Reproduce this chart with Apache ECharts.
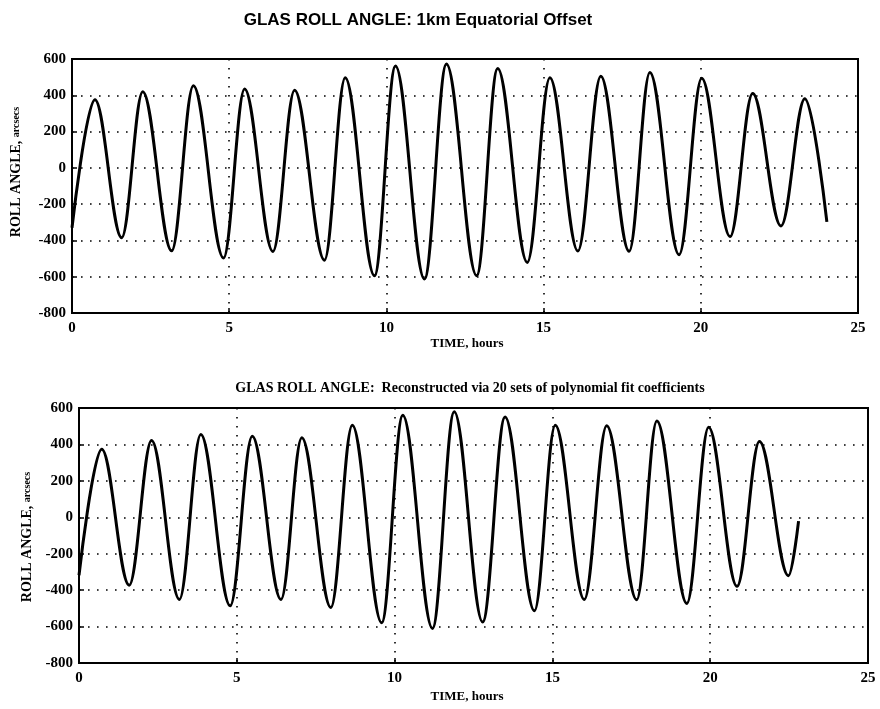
<!DOCTYPE html>
<html>
<head>
<meta charset="utf-8">
<script src="https://cdn.jsdelivr.net/npm/echarts@6/dist/echarts.min.js"></script>
<style>
  html, body { margin: 0; padding: 0; background: #fff; }
  #main { width: 880px; height: 709px; }
</style>
</head>
<body>
<div id="main"></div>
<script>
// values: start, each peak / trough, end
var topHours = [0, 0.73, 1.58, 2.25, 3.17, 3.86, 4.82, 5.49, 6.39, 7.08, 8.03, 8.69, 9.62, 10.29, 11.21, 11.91,
  12.87, 13.54, 14.48, 15.20, 16.09, 16.82, 17.72, 18.38, 19.31, 20.03, 20.93, 21.65, 22.55, 23.31, 24.01]
var topRoll = [-330, 375, -385, 420, -457, 452, -497, 434, -461, 428, -509, 497, -595, 562, -613, 572,
  -594, 548, -521, 497, -458, 505, -460, 526, -479, 494, -379, 410, -320, 381, -298]

var bottomHours = [0, 0.72, 1.59, 2.30, 3.18, 3.86, 4.79, 5.49, 6.40, 7.06, 7.98, 8.66, 9.59, 10.26, 11.20, 11.89,
  12.79, 13.50, 14.43, 15.09, 16.01, 16.72, 17.67, 18.31, 19.26, 19.95, 20.85, 21.56, 22.48, 22.80]
var bottomRoll = [-318, 373, -373, 422, -451, 454, -486, 445, -451, 436, -495, 505, -579, 560, -610, 580,
  -575, 551, -513, 505, -451, 503, -453, 529, -473, 494, -379, 416, -321, -21]

var hourTicks = [0, 25, 5]       // min, max, step
var rollTicks = [-800, 600, 200]

function pairs(xs, ys) {
  return xs.map(function (x, i) { return [x, ys[i]] })
}

var tickFont = { color: '#000', fontFamily: 'Liberation Serif', fontWeight: 'bold', fontSize: 15 }
var dotted = { color: '#000', width: 1.6, type: [1.6, 7.4] }

function xAxisFor(i) {
  return {
    gridIndex: i, type: 'value', min: hourTicks[0], max: hourTicks[1], interval: hourTicks[2],
    axisLine: { onZero: false, lineStyle: { color: '#000', width: 2 } },
    axisTick: { inside: true, length: 5, lineStyle: { color: '#000', width: 1.5 } },
    axisLabel: Object.assign({ margin: 8 }, tickFont),
    splitLine: { show: true, lineStyle: dotted }
  }
}
function yAxisFor(i) {
  return {
    gridIndex: i, type: 'value', min: rollTicks[0], max: rollTicks[1], interval: rollTicks[2],
    axisLine: { show: true, lineStyle: { color: '#000', width: 2 } },
    axisTick: { inside: true, length: 5, lineStyle: { color: '#000', width: 1.5 } },
    axisLabel: Object.assign({ margin: 6 }, tickFont),
    splitLine: { show: true, lineStyle: dotted }
  }
}

var myChart = echarts.init(document.getElementById('main'))

// horizontal handles at each extremum give a near-sinusoidal curve
var curve = { smooth: 0.36, smoothMonotone: 'x', showSymbol: false, lineStyle: { color: '#000', width: 3 } }

var option = {
  backgroundColor: '#fff',
  animation: false,
  grid: [
    { left: 72, right: 22, top: 59, bottom: 396, show: true, borderColor: '#000', borderWidth: 2 },
    { left: 79, right: 12, top: 408, bottom: 46, show: true, borderColor: '#000', borderWidth: 2 }
  ],
  xAxis: [xAxisFor(0), xAxisFor(1)],
  yAxis: [yAxisFor(0), yAxisFor(1)],
  series: [
    Object.assign({ type: 'line', xAxisIndex: 0, yAxisIndex: 0, data: pairs(topHours, topRoll) }, curve),
    Object.assign({ type: 'line', xAxisIndex: 1, yAxisIndex: 1, data: pairs(bottomHours, bottomRoll) }, curve)
  ],
  graphic: [
    { type: 'text', x: 418, y: 20, style: { text: 'GLAS ROLL ANGLE: 1km Equatorial Offset', fill: '#000',
      font: 'bold 17px "Liberation Sans"', textAlign: 'center', textVerticalAlign: 'middle' } },
    { type: 'text', x: 470, y: 388, style: { text: 'GLAS ROLL ANGLE:  Reconstructed via 20 sets of polynomial fit coefficients', fill: '#000',
      font: 'bold 14px "Liberation Serif"', textAlign: 'center', textVerticalAlign: 'middle' } },
    { type: 'text', x: 467, y: 344, style: { text: 'TIME, hours', fill: '#000',
      font: 'bold 13px "Liberation Serif"', textAlign: 'center', textVerticalAlign: 'middle' } },
    { type: 'text', x: 467, y: 697, style: { text: 'TIME, hours', fill: '#000',
      font: 'bold 13px "Liberation Serif"', textAlign: 'center', textVerticalAlign: 'middle' } },
    { type: 'text', x: 16, y: 172, rotation: Math.PI / 2, style: { text: '{a|ROLL ANGLE, }{b|arcsecs}', fill: '#000',
      textAlign: 'center', textVerticalAlign: 'middle',
      rich: { a: { font: 'bold 14px "Liberation Serif"' }, b: { font: 'bold 10px "Liberation Serif"' } } } },
    { type: 'text', x: 27, y: 537, rotation: Math.PI / 2, style: { text: '{a|ROLL ANGLE, }{b|arcsecs}', fill: '#000',
      textAlign: 'center', textVerticalAlign: 'middle',
      rich: { a: { font: 'bold 14px "Liberation Serif"' }, b: { font: 'bold 10px "Liberation Serif"' } } } }
  ]
}

myChart.setOption(option)
</script>
</body>
</html>
